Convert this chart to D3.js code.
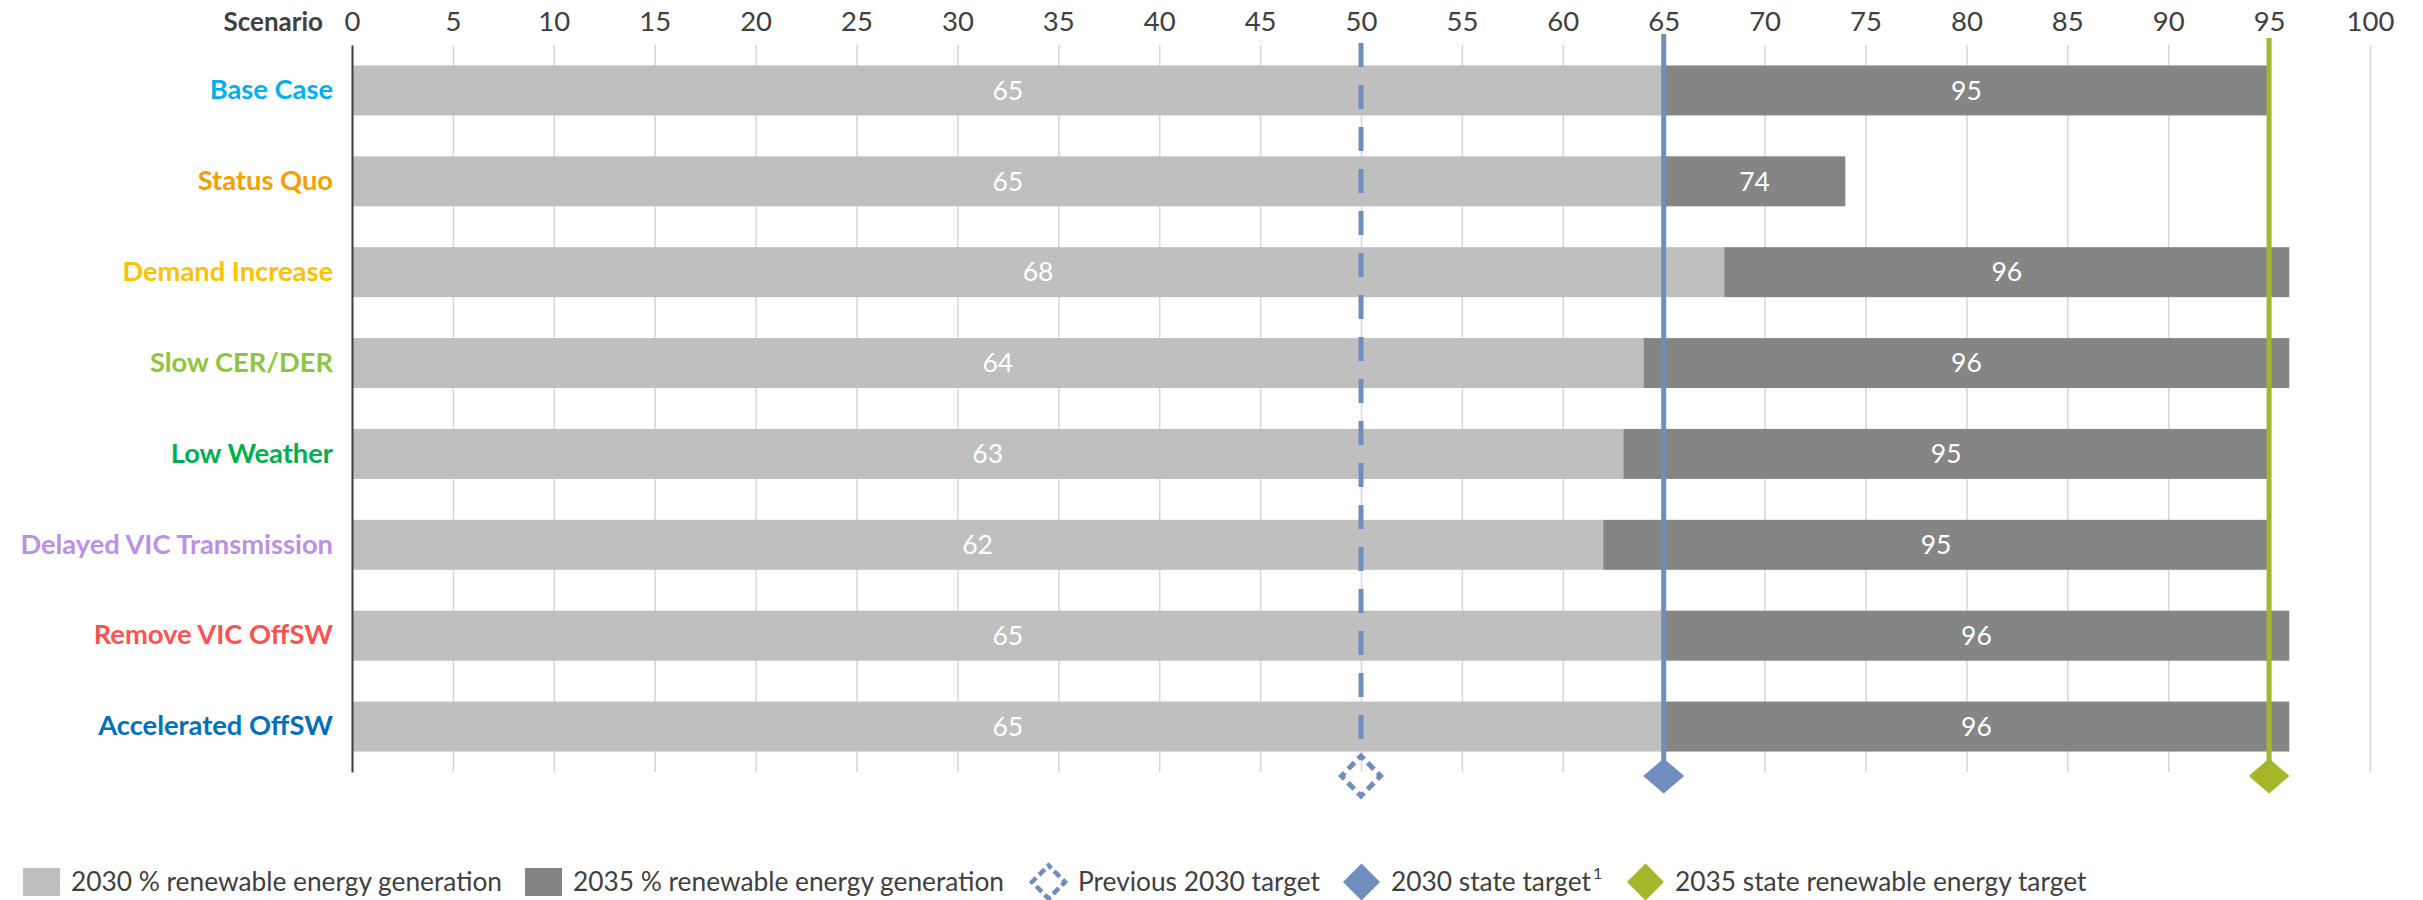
<!DOCTYPE html>
<html>
<head>
<meta charset="utf-8">
<script src="https://cdn.jsdelivr.net/npm/d3@7"></script>
<style>
  html, body { margin: 0; padding: 0; background: #ffffff; }
  svg { display: block; font-family: Lato, "Open Sans", sans-serif; }
</style>
</head>
<body>
<svg id="chart" width="2423" height="900"></svg>
<script>
// Scenario categories and their label colours
const scenarios = [
  "Base Case", "Status Quo", "Demand Increase", "Slow CER/DER",
  "Low Weather", "Delayed VIC Transmission", "Remove VIC OffSW", "Accelerated OffSW"
];
const scenarioColors = [
  "#00B0F0", "#F59E00", "#FFC000", "#8CC63F",
  "#00B050", "#BB90E6", "#FF5052", "#0070C0"
];

// % renewable energy generation per scenario
const gen2030 = [65, 65, 68, 64, 63, 62, 65, 65];
const gen2035 = [95, 74, 96, 96, 95, 95, 96, 96];

// Axis ticks
const xTicks = [0, 5, 10, 15, 20, 25, 30, 35, 40, 45, 50, 55, 60, 65, 70, 75, 80, 85, 90, 95, 100];

// Series and target names
const seriesNames = ["2030 % renewable energy generation", "2035 % renewable energy generation"];
const targetNames = ["Previous 2030 target", "2030 state target", "2035 state renewable energy target"];
const targetValues = [50, 65, 95];

const C_2030 = "#BFBFBF";
const C_2035 = "#858585";
const C_BLUE = "#6F8EBE";
const C_GREEN = "#A6B62A";
const C_TEXT = "#404040";

const svg = d3.select("#chart");

const x = d3.scaleLinear().domain([0, 100]).range([352, 2370]);
const y = d3.scaleBand().domain(scenarios).range([45, 772])
  .paddingInner(0.45).paddingOuter(0.225);

const rows = scenarios.map((s, i) => ({ name: s, v30: gen2030[i], v35: gen2035[i], color: scenarioColors[i] }));

// Vertical gridlines
const gridG = svg.append("g")
  .attr("transform", `translate(0,${y.range()[0]})`)
  .call(d3.axisBottom(x).tickValues(xTicks).tickSize(y.range()[1] - y.range()[0]).tickFormat(""));
gridG.select(".domain").remove();
gridG.selectAll(".tick line").attr("stroke", "#D6D6D6").attr("stroke-width", 1.5);

// Top tick labels
const xAxisG = svg.append("g")
  .attr("transform", `translate(0,${y.range()[0]})`)
  .call(d3.axisTop(x).tickValues(xTicks).tickSize(0).tickPadding(14));
xAxisG.select(".domain").remove();
xAxisG.selectAll(".tick text")
  .attr("fill", C_TEXT).attr("font-size", 27.5).attr("font-family", "Lato");

svg.append("text")
  .attr("x", 323).attr("y", 31)
  .attr("text-anchor", "end")
  .attr("fill", C_TEXT).attr("font-size", 26).attr("font-weight", 700)
  .text("Scenario");

// Bars: 2030 segment from 0, 2035 segment stacked from the 2030 value
const bars = svg.append("g");
bars.selectAll("rect.b30").data(rows).join("rect")
  .attr("class", "b30")
  .attr("x", x(0)).attr("y", d => y(d.name))
  .attr("width", d => x(d.v30) - x(0)).attr("height", y.bandwidth())
  .attr("fill", C_2030);
bars.selectAll("rect.b35").data(rows).join("rect")
  .attr("class", "b35")
  .attr("x", d => x(d.v30)).attr("y", d => y(d.name))
  .attr("width", d => x(d.v35) - x(d.v30)).attr("height", y.bandwidth())
  .attr("fill", C_2035);

// Value labels
const labels = svg.append("g").attr("fill", "#ffffff").attr("font-size", 26.5).attr("text-anchor", "middle");
labels.selectAll("text.l30").data(rows).join("text")
  .attr("class", "l30")
  .attr("x", d => x(d.v30 / 2)).attr("y", d => y(d.name) + y.bandwidth() / 2)
  .attr("dy", "0.35em").text(d => d.v30);
labels.selectAll("text.l35").data(rows).join("text")
  .attr("class", "l35")
  .attr("x", d => x((d.v30 + d.v35) / 2)).attr("y", d => y(d.name) + y.bandwidth() / 2)
  .attr("dy", "0.35em").text(d => d.v35);

// Category axis
const yAxisG = svg.append("g")
  .attr("transform", `translate(${x(0)},0)`)
  .call(d3.axisLeft(y).tickSize(0).tickSizeOuter(0).tickPadding(19));
yAxisG.select(".domain").attr("stroke", C_TEXT).attr("stroke-width", 2);
yAxisG.selectAll(".tick text")
  .attr("font-size", 27.3).attr("font-weight", 700).attr("font-family", "Lato")
  .attr("fill", (d, i) => scenarioColors[i]);

// Target lines and markers
const markerY = 776;
const lineTop = 34;
const diamond = (w, h) => `M0,${-h / 2}L${w / 2},0L0,${h / 2}L${-w / 2},0Z`;

// Previous 2030 target: dashed line with hollow dashed diamond
svg.append("line")
  .attr("x1", x(targetValues[0])).attr("x2", x(targetValues[0]))
  .attr("y1", lineTop).attr("y2", 755)
  .attr("stroke", C_BLUE).attr("stroke-width", 5)
  .attr("stroke-dasharray", "24 18").attr("stroke-dashoffset", 33);
svg.append("path")
  .attr("transform", `translate(${x(targetValues[0])},${markerY})`)
  .attr("d", diamond(39, 40))
  .attr("fill", "none").attr("stroke", C_BLUE).attr("stroke-width", 5)
  .attr("stroke-dasharray", "9 5").attr("stroke-dashoffset", 4.5);

// 2030 state target
svg.append("line")
  .attr("x1", x(targetValues[1])).attr("x2", x(targetValues[1]))
  .attr("y1", lineTop).attr("y2", markerY)
  .attr("stroke", C_BLUE).attr("stroke-width", 5);
svg.append("path")
  .attr("transform", `translate(${x(targetValues[1])},${markerY})`)
  .attr("d", diamond(41, 35)).attr("fill", C_BLUE);

// 2035 state target
svg.append("line")
  .attr("x1", x(targetValues[2])).attr("x2", x(targetValues[2]))
  .attr("y1", lineTop + 4).attr("y2", markerY)
  .attr("stroke", C_GREEN).attr("stroke-width", 5);
svg.append("path")
  .attr("transform", `translate(${x(targetValues[2])},${markerY})`)
  .attr("d", diamond(41, 35)).attr("fill", C_GREEN);

// Legend
const legendItems = [
  { type: "rect", color: C_2030, label: seriesNames[0], x: 23 },
  { type: "rect", color: C_2035, label: seriesNames[1], x: 525 },
  { type: "hollow", color: C_BLUE, label: targetNames[0], x: 1030 },
  { type: "diamond", color: C_BLUE, label: targetNames[1], sup: "1", x: 1343 },
  { type: "diamond", color: C_GREEN, label: targetNames[2], x: 1627 }
];
const legendY = 882;
const keyW = 37;
const legend = svg.append("g").attr("font-size", 26.3).attr("fill", C_TEXT);
legendItems.forEach(item => {
  const lx = item.x;
  if (item.type === "rect") {
    legend.append("rect").attr("x", lx).attr("y", legendY - 14).attr("width", keyW).attr("height", 28)
      .attr("fill", item.color);
  } else if (item.type === "hollow") {
    legend.append("path").attr("transform", `translate(${lx + keyW / 2},${legendY})`)
      .attr("d", diamond(33, 33)).attr("fill", "none").attr("stroke", item.color)
      .attr("stroke-width", 4.5).attr("stroke-dasharray", "8 4").attr("stroke-dashoffset", 4);
  } else {
    legend.append("path").attr("transform", `translate(${lx + keyW / 2},${legendY})`)
      .attr("d", diamond(keyW, keyW)).attr("fill", item.color);
  }
  const t = legend.append("text").attr("x", lx + keyW + 11).attr("y", legendY).attr("dy", "0.35em")
    .text(item.label);
  if (item.sup) {
    t.append("tspan").attr("font-size", 16).attr("dy", "-0.75em").attr("dx", 2).text(item.sup);
  }
});
</script>
</body>
</html>
